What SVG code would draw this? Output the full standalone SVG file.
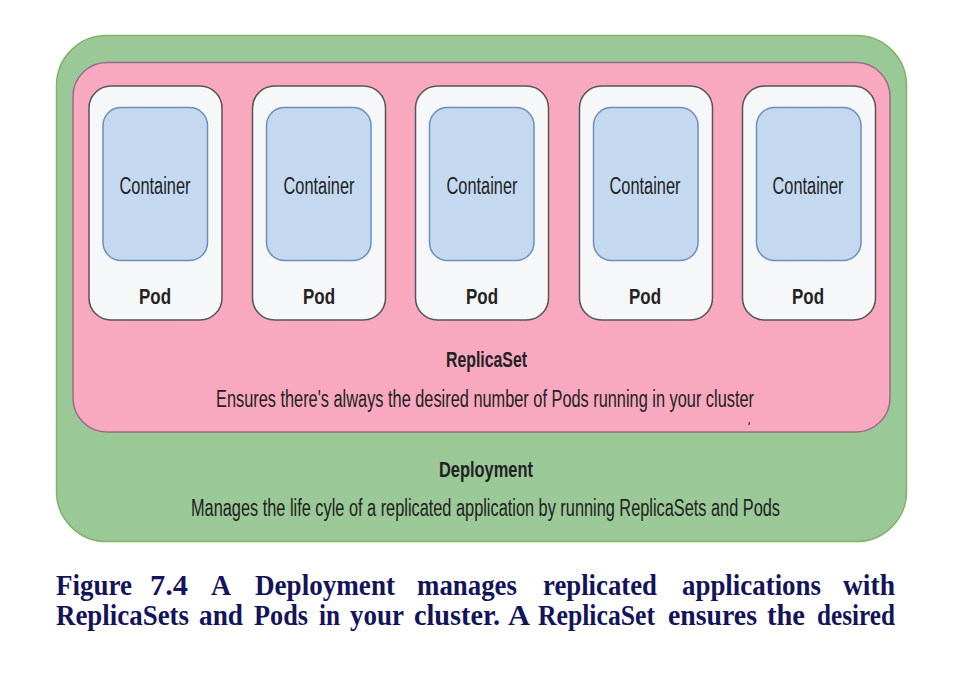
<svg xmlns="http://www.w3.org/2000/svg" width="973" height="679" viewBox="0 0 973 679">
<style>
.dep{fill:#9bc897;stroke:#82b366;stroke-width:1.5}
.rs{fill:#f8a9c0;stroke:#9a6a8c;stroke-width:1.5}
.pod{fill:#f6f7f9;stroke:#555555;stroke-width:1.5}
.ctr{fill:#c4d9f0;stroke:#6c8ebf;stroke-width:1.5}
.t{font-family:"Liberation Sans Narrow","Liberation Sans",Arial,sans-serif;fill:#222222;text-anchor:middle}
.ct{font-size:23.5px}
.pt{font-size:22.5px;font-weight:bold}
.hd{font-size:22.5px;font-weight:bold}
.ds{font-size:23px}
.cap{font-family:"Liberation Serif","Times New Roman",serif;font-weight:bold;font-size:29px;fill:#14145a}
</style>
<rect width="973" height="679" fill="#ffffff"/>
<g id="deployment">
<rect class="dep" x="56.5" y="35.5" width="850" height="506" rx="50"/>
<text class="t hd" x="486" y="477" textLength="94" lengthAdjust="spacingAndGlyphs">Deployment</text>
<text class="t ds" x="485.5" y="516" textLength="589" lengthAdjust="spacingAndGlyphs">Manages the life cyle of a replicated application by running ReplicaSets and Pods</text>
</g>
<g id="replicaset">
<rect class="rs" x="73" y="62.5" width="817" height="369.5" rx="34"/>
<text class="t hd" x="486.5" y="367" textLength="81" lengthAdjust="spacingAndGlyphs">ReplicaSet</text>
<text class="t ds" x="485" y="407" textLength="538" lengthAdjust="spacingAndGlyphs">Ensures there's always the desired number of Pods running in your cluster</text>
<path d="M749.5 422 l-0.6 3" stroke="#333" stroke-width="1.2"/>
</g>
<g id="pod1">
<rect class="pod" x="89" y="86" width="133" height="234" rx="22"/>
<rect class="ctr" x="103" y="107.5" width="104.5" height="153" rx="18"/>
<text class="t ct" x="155" y="194" textLength="71" lengthAdjust="spacingAndGlyphs">Container</text>
<text class="t pt" x="155" y="304" textLength="32" lengthAdjust="spacingAndGlyphs">Pod</text>
</g>
<g id="pod2">
<rect class="pod" x="252.5" y="86" width="133" height="234" rx="22"/>
<rect class="ctr" x="266.5" y="107.5" width="104.5" height="153" rx="18"/>
<text class="t ct" x="319" y="194" textLength="71" lengthAdjust="spacingAndGlyphs">Container</text>
<text class="t pt" x="319" y="304" textLength="32" lengthAdjust="spacingAndGlyphs">Pod</text>
</g>
<g id="pod3">
<rect class="pod" x="415.5" y="86" width="133" height="234" rx="22"/>
<rect class="ctr" x="429.5" y="107.5" width="104.5" height="153" rx="18"/>
<text class="t ct" x="482" y="194" textLength="71" lengthAdjust="spacingAndGlyphs">Container</text>
<text class="t pt" x="482" y="304" textLength="32" lengthAdjust="spacingAndGlyphs">Pod</text>
</g>
<g id="pod4">
<rect class="pod" x="579.5" y="86" width="133" height="234" rx="22"/>
<rect class="ctr" x="593.5" y="107.5" width="104.5" height="153" rx="18"/>
<text class="t ct" x="645" y="194" textLength="71" lengthAdjust="spacingAndGlyphs">Container</text>
<text class="t pt" x="645" y="304" textLength="32" lengthAdjust="spacingAndGlyphs">Pod</text>
</g>
<g id="pod5">
<rect class="pod" x="742.5" y="86" width="133" height="234" rx="22"/>
<rect class="ctr" x="756.5" y="107.5" width="104.5" height="153" rx="18"/>
<text class="t ct" x="808" y="194" textLength="71" lengthAdjust="spacingAndGlyphs">Container</text>
<text class="t pt" x="808" y="304" textLength="32" lengthAdjust="spacingAndGlyphs">Pod</text>
</g>
<g id="connectors"></g>
<g id="caption">
<text class="cap" y="595"><tspan x="56" textLength="76" lengthAdjust="spacingAndGlyphs">Figure</tspan><tspan x="150" textLength="38" lengthAdjust="spacingAndGlyphs">7.4</tspan><tspan x="211" textLength="20" lengthAdjust="spacingAndGlyphs">A</tspan><tspan x="255" textLength="140" lengthAdjust="spacingAndGlyphs">Deployment</tspan><tspan x="417" textLength="100" lengthAdjust="spacingAndGlyphs">manages</tspan><tspan x="543" textLength="114" lengthAdjust="spacingAndGlyphs">replicated</tspan><tspan x="682" textLength="139" lengthAdjust="spacingAndGlyphs">applications</tspan><tspan x="843" textLength="52" lengthAdjust="spacingAndGlyphs">with</tspan></text>
<text class="cap" y="625"><tspan x="56" textLength="133" lengthAdjust="spacingAndGlyphs">ReplicaSets</tspan><tspan x="199" textLength="44" lengthAdjust="spacingAndGlyphs">and</tspan><tspan x="254" textLength="54" lengthAdjust="spacingAndGlyphs">Pods</tspan><tspan x="319" textLength="21" lengthAdjust="spacingAndGlyphs">in</tspan><tspan x="350" textLength="54" lengthAdjust="spacingAndGlyphs">your</tspan><tspan x="414" textLength="86" lengthAdjust="spacingAndGlyphs">cluster.</tspan><tspan x="508" textLength="22" lengthAdjust="spacingAndGlyphs">A</tspan><tspan x="538" textLength="117" lengthAdjust="spacingAndGlyphs">ReplicaSet</tspan><tspan x="668" textLength="89" lengthAdjust="spacingAndGlyphs">ensures</tspan><tspan x="767" textLength="38" lengthAdjust="spacingAndGlyphs">the</tspan><tspan x="817" textLength="78" lengthAdjust="spacingAndGlyphs">desired</tspan></text>
</g>
</svg>
